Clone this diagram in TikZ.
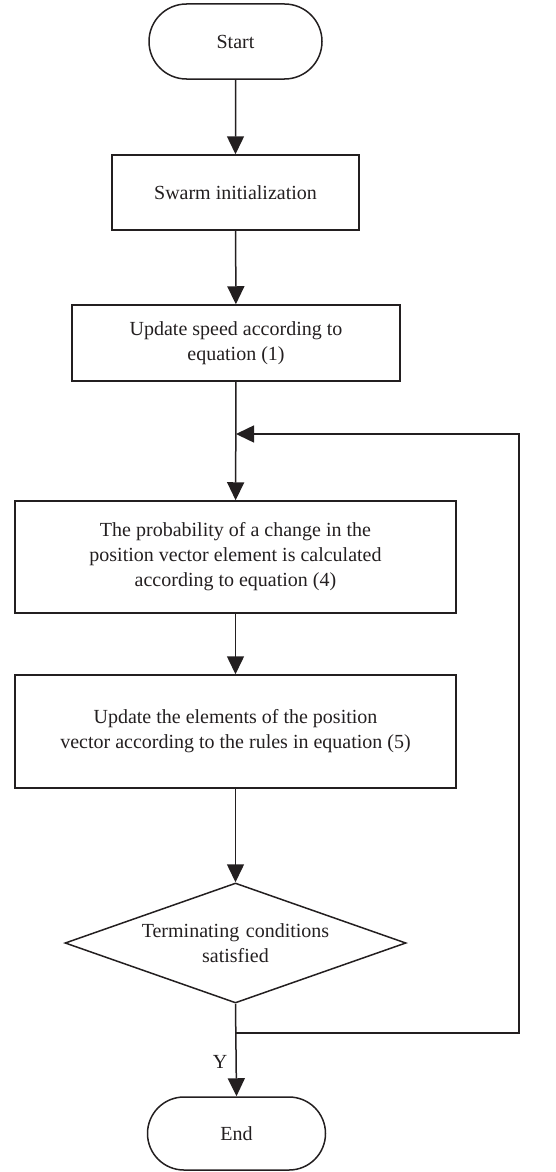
\documentclass[tikz,border=0pt]{standalone}
\usepackage{fontspec}
\setmainfont{Liberation Serif}
\usetikzlibrary{shapes.geometric,shapes.misc,arrows.meta}
\definecolor{ink}{HTML}{231F20}
\begin{document}
\begin{tikzpicture}[x=1pt,y=-1pt,
  every node/.style={font=\fontsize{20}{25}\selectfont, text=ink},
  box/.style={draw=ink, line width=1.5pt, rectangle, align=center, inner sep=0pt},
  term/.style={draw=ink, line width=1.5pt, rounded rectangle, align=center, inner sep=0pt},
  decis/.style={draw=ink, line width=1.5pt, diamond, align=center, inner sep=0pt, shape aspect=2.84},
  flow/.style={draw=ink, line width=1.5pt, -{Triangle[length=18pt,width=17pt]}},
  plain/.style={draw=ink, line width=1.5pt}
]
\useasboundingbox (0,0) rectangle (555,1172);
\node[term, minimum width=173pt, minimum height=75pt] (start) at (235.5,41.5) {Start};
\node[box, minimum width=247pt, minimum height=75pt] (swarm) at (235.5,192.5) {Swarm initialization};
\node[box, minimum width=328pt, minimum height=76pt] (speed) at (236,343) {Update speed according to\\equation (1)};
\node[box, minimum width=441pt, minimum height=112pt] (prob) at (235.5,557) {The probability of a change in the\\position vector element is calculated\\according to equation (4)};
\node[box, minimum width=441pt, minimum height=113pt] (elem) at (235.5,731.5) {Update the elements of the position\\vector according to the rules in equation (5)};
\node[decis, minimum width=341pt, minimum height=120pt, text width=200pt] (dec) at (235.5,943) {Terminating conditions\\satisfied};
\node[term, minimum width=178pt, minimum height=73pt] (end) at (236.5,1133.5) {End};
\node (ylab) at (220,1062) {Y};
\coordinate (j1) at (236,1033);
\coordinate (r1) at (519,1033);
\coordinate (r2) at (519,434);
\coordinate (j2) at (236,434);
\draw[flow] (start) -- (swarm);
\draw[flow] (swarm) -- (speed);
\draw[flow] (speed) -- (prob);
\draw[flow] (prob) -- (elem);
\draw[flow] (elem) -- (dec);
\draw[flow] (dec.south) -- (end.north);
\draw[flow] (j1) -- (r1) -- (r2) -- (j2);
\end{tikzpicture}
\end{document}
